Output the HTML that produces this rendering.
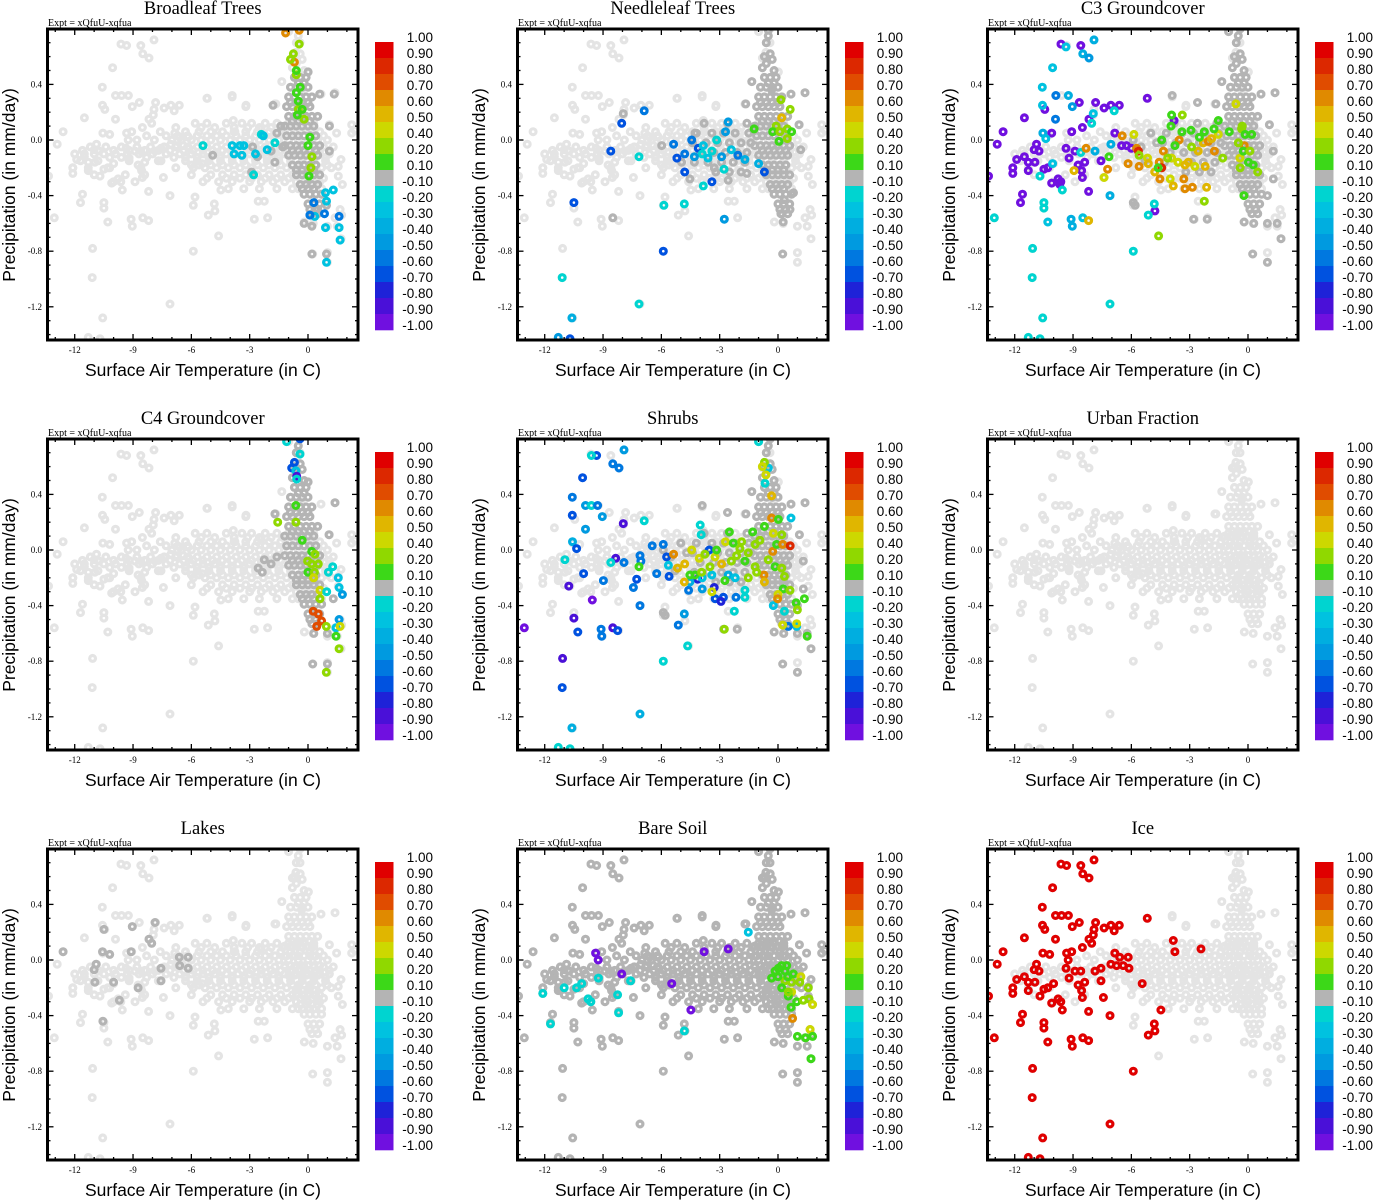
<!DOCTYPE html>
<html><head><meta charset="utf-8"><style>
html,body{margin:0;padding:0;background:#fff;}
svg{display:block;}
.ttl{font-family:"Liberation Serif",serif;font-size:18.5px;}
.expt{font-family:"Liberation Serif",serif;font-size:10px;}
.tk{font-family:"Liberation Serif",serif;font-size:9px;}
.axl{font-family:"Liberation Sans",sans-serif;font-size:17.5px;}
.cbl{font-family:"Liberation Sans",sans-serif;font-size:13.5px;}
</style></head><body>
<svg id="fig" width="1373" height="1200" xmlns="http://www.w3.org/2000/svg"></svg>
<script>
// ---------- data ----------
const xTicks = [-12,-9,-6,-3,0];
const yTicks = [0.4,0.0,-0.4,-0.8,-1.2];
const cbLabels = ["1.00","0.90","0.80","0.70","0.60","0.50","0.40","0.20","0.10","-0.10","-0.20","-0.30","-0.40","-0.50","-0.60","-0.70","-0.80","-0.90","-1.00"];
const binLower = [0.9,0.8,0.7,0.6,0.5,0.4,0.2,0.1,-0.1,-0.2,-0.3,-0.4,-0.5,-0.6,-0.7,-0.8,-0.9,-1.01];
const binColors = ["#e00000","#dc2800","#e04c00","#e08a00","#e0b600","#cdd800","#90d800","#3cd818","#b4b4b4","#00d4d0","#00c2e0","#00aee0","#009ae0","#0078e0","#0052e0","#1e22d8","#4a10d8","#7010e0"];
const lightColor = "#e4e4e4";

const leftCloud = [[-9.62,0.69],[-9.33,0.68],[-8.6,0.68],[-7.92,0.72],[-8.5,0.62],[-8.18,0.59],[-10.05,0.52],[-10.58,0.38],[-9.9,0.32],[-9.59,0.32],[-9.24,0.32],[-10.57,0.25],[-10.45,0.22],[-9.04,0.24],[-8.68,0.27],[-7.84,0.27],[-7.92,0.22],[-7.96,0.18],[-7.4,0.23],[-7.05,0.25],[-6.62,0.25],[-6.88,0.21],[-5.18,0.3],[-3.84,0.14],[-3.76,0.06],[-2.42,0.08],[-11.5,0.16],[-9.9,0.15],[-8.18,0.15],[-8.04,0.12],[-8.52,0.09],[-12.6,0.06],[-10.55,0.05],[-10.2,0.04],[-9.33,0.05],[-9.07,0.06],[-6.85,0.05],[-6.6,0.02],[-6.16,0.02],[-12.9,-0.03],[-10.88,-0.03],[-11,-0.07],[-10.75,-0.08],[-9.36,-0.06],[-9.25,0],[-8.9,-0.08],[-8.6,-0.08],[-7.87,-0.08],[-7.56,-0.06],[-7.05,-0.03],[-6.76,-0.04],[-6.42,-0.04],[-6.12,-0.06],[-11.9,-0.14],[-11.5,-0.12],[-11.3,-0.16],[-10.96,-0.16],[-11.3,-0.22],[-12.1,-0.2],[-12.1,-0.24],[-10.5,-0.21],[-10.3,-0.2],[-10,-0.17],[-9.2,-0.13],[-8.74,-0.18],[-8.4,-0.16],[-8.56,-0.22],[-8.52,-0.27],[-10.7,-0.26],[-9.77,-0.28],[-9.63,-0.3],[-9.55,-0.36],[-7.56,-0.15],[-7.44,-0.27],[-5.44,-0.17],[-13.35,-0.26],[-10.1,-0.31],[-8.2,-0.37],[-7.1,-0.4],[-11.6,-0.39],[-11.7,-0.45],[-10.5,-0.45],[-10.5,-0.49],[-13.05,-0.56],[-10.3,-0.59],[-9.1,-0.57],[-9.04,-0.62],[-8.5,-0.56],[-8.2,-0.58],[-11.08,-0.78],[-11.1,-0.99],[-10.56,-1.28],[-11.3,-1.42],[-10.7,-1.43],[-7.1,-1.18],[-5.9,-0.8],[-5.13,-0.54],[-4.82,-0.46],[-4.79,-0.51],[-4.48,-0.36]];
const rightScatter = [[-4.6,-0.69],[-5.81,-0.41],[-5.9,-0.47],[-2.76,-0.57],[-2.08,-0.56],[-2.56,-0.44],[-2.25,-0.44],[-0.8,-0.35],[-0.19,-0.59],[0.27,-0.6],[1,-0.62],[1.5,-0.62],[1.7,-0.71],[0.24,-0.82],[1,-0.81],[1,-0.88],[1.39,-0.56],[1.73,-0.54],[1.65,-0.5],[1.77,-0.32],[1.56,-0.26],[1.7,-0.14],[1.56,-0.19],[1.47,0.05],[2.25,0.05],[2.42,0.07],[2.25,0.11],[1.1,0.11],[1.39,0.34],[0.67,0.33],[0.02,0.49],[-0.33,0.36],[-1.35,0.42],[-1.65,0.26],[-3.19,0.25],[-3.9,0.32],[-0.41,0.7],[-0.8,0.59],[-0.62,0.63],[-1,0.78],[-0.41,0.8],[-3.2,0.24],[-1.7,0.26],[-5.2,0.3],[-3.9,0.31]];
const coreRows = [
 [0.12,[-5.8,-5.2,-4.2,-3.4,-2.9,-2.2,-1.6,-1.0,-0.6,-0.2,0.3]],
 [0.09,[-6.8,-5.5,-4.8,-3.8,-3.1,-2.5,-1.9,-1.3,-0.8,-0.3,0.2]],
 [0.06,[-7.6,-6.3,-5.6,-5.0,-4.4,-3.8,-3.2,-2.6,-2.0,-1.4,-0.9,-0.4,0.1,0.6]],
 [0.03,[-8.3,-7.3,-6.7,-6.2,-5.7,-5.2,-4.7,-4.2,-3.7,-3.2,-2.7,-2.2,-1.7,-1.2,-0.7,-0.2,0.3,0.8]],
 [0.0,[-8.8,-7.9,-7.0,-6.5,-6.0,-5.5,-5.0,-4.5,-4.0,-3.5,-3.0,-2.5,-2.0,-1.5,-1.0,-0.5,0,0.5,1.0]],
 [-0.05,[-11.2,-10.4,-9.6,-8.8,-8.1,-7.4,-6.8,-6.2,-5.7,-5.2,-4.7,-4.2,-3.7,-3.2,-2.7,-2.2,-1.7,-1.2,-0.7,-0.2,0.3,0.8,1.3]],
 [-0.075,[-11.6,-10.8,-10.0,-9.2,-8.4,-7.7,-7.1,-6.4,-5.9,-5.4,-4.9,-4.4,-3.9,-3.4,-2.9,-2.4,-1.9,-1.4,-0.9,-0.4,0.1,0.6,1.1]],
 [-0.1,[-12.0,-11.5,-11.0,-10.5,-9.9,-9.3,-8.7,-8.0,-7.3,-6.6,-6.0,-5.4,-4.8,-4.2,-3.6,-3.0,-2.4,-1.8,-1.2,-0.6,0,0.6,1.1]],
 [-0.125,[-10.2,-9.6,-8.3,-6.9,-6.3,-5.7,-5.1,-4.5,-3.9,-3.3,-2.7,-2.1,-1.5,-0.9,-0.3,0.3,0.9]],
 [-0.15,[-11.7,-10.8,-9.2,-7.7,-6.3,-5.7,-5.1,-4.5,-3.9,-3.3,-2.7,-2.1,-1.5,-0.9,-0.3,0.3,0.9]],
 [-0.18,[-6.0,-5.6,-5.0,-4.4,-3.8,-3.2,-2.6,-2.0,-1.4,-0.8,-0.2,0.4,1.0]],
 [-0.2,[-12.1,-11.3,-10.2,-8.6,-6.8,-5.9,-5.3,-4.7,-4.1,-3.5,-2.9,-2.3,-1.7,-1.1,-0.5,0.1,0.7,1.2]],
 [-0.25,[-11.0,-9.4,-8.4,-6.0,-5.0,-4.4,-3.8,-3.2,-2.6,-2.0,-1.4,-0.8,-0.2,0.4]],
 [-0.275,[-5.2,-4.2,-3.5,-2.9,-2.2,-1.6,-1.0,-0.4,0.2,0.8]],
 [-0.3,[-10.0,-8.9,-5.4,-4.6,-3.9,-3.0,-2.4,-1.8,-1.2,-0.6,0,0.6]],
 [-0.35,[-4.1,-3.3,-2.5,-1.6,-0.5,0.1,0.7]]
];
const spikeRows = [
 [0.45,[-0.7,-0.4,-0.1]],[0.41,[-0.5,-0.2]],[0.38,[-0.9,-0.6,-0.3,0]],[0.31,[-1.0,-0.7,-0.4,-0.1,0.2]],
 [0.27,[-0.9,-0.6,-0.3,0]],[0.24,[-1.1,-0.8,-0.5,-0.2,0.1]],[0.17,[-1.0,-0.7,-0.4,-0.1,0.2,0.5]],[0.135,[-0.8,-0.5,-0.2,0.1]],[0.10,[-1.2,-0.9,-0.6,-0.3,0,0.3]],
 [0.03,[-1.1,-0.8,-0.5,-0.2,0.1,0.4]],[-0.04,[-1.2,-0.9,-0.6,-0.3,0,0.3,0.6]],[-0.075,[-0.8,-0.5,-0.2,0.1,0.4]],[-0.11,[-1.0,-0.7,-0.4,-0.1,0.2,0.5]],
 [-0.18,[-0.8,-0.5,-0.2,0.1,0.4]],[-0.215,[-0.6,-0.3,0,0.3]],[-0.25,[-0.6,-0.3,0,0.3,0.6]],[-0.32,[-0.4,-0.1,0.2,0.5]],[-0.35,[-0.3,0,0.3]],
 [-0.39,[-0.2,0.1,0.4,0.7]],[-0.46,[0,0.3,0.6]],[-0.5,[0.1,0.4]],[-0.53,[0.2,0.5]]
];
const topSpike = [[-0.6,0.55],[-0.4,0.62],[-0.6,0.7],[-0.5,0.75],[-0.2,0.5],[-0.8,0.52],[-0.3,0.58],[-0.7,0.6]];
const midRows = [
 [0.12,[-3.8,-2.6,-1.6]],[0.05,[-4.2,-3.4,-2.8,-2.2,-1.5]],[-0.02,[-4.4,-3.7,-3.1,-2.5,-1.9,-1.4]],
 [-0.09,[-4.0,-3.3,-2.7,-2.1,-1.6]],[-0.16,[-4.3,-3.6,-2.9,-2.3,-1.7]],[-0.23,[-3.2,-2.5,-1.9]]
];
const broadDark = [[-4.9,-0.11],[-2.85,-0.05],[-2.6,-0.12],[-2.9,-0.23],[-1.8,0.25],[-1.7,-0.16],[0,0.49],[0.6,0.33],[1.35,0.33],[1.1,0.1],[1.1,-0.08],[-0.2,-0.6],[0.2,-0.62],[0.2,-0.82],[0.95,-0.82],[0.95,-0.47],[0.5,-0.5],[-1.4,0.1],[-1.6,0.05],[-1.3,-0.05],[-1.9,-0.08]];
const needleDark = [[-1.35,0.42],[0.67,0.33],[1.39,0.34],[1.08,0.11],[1.17,-0.07],[0.8,-0.38],[0.33,-0.43],[0.62,-0.5],[0.15,-0.53],[0.27,-0.59],[0.24,-0.82],[-8.5,-0.56],[-7.96,0.19],[-5.98,-0.04],[-4.27,0.05],[-4.96,-0.16],[-4.53,-0.28],[-3.28,-0.2],[-2.56,-0.29],[-1.6,-0.24],[-1.66,0.26],[-0.33,0.36],[-0.5,0.79]];
const c4Dark = [[-2.25,-0.07],[-2.56,-0.13],[-2.35,-0.16],[-1.7,0.26],[0,0.49],[1.08,0.11],[1.39,0.34],[0.3,-0.6],[1,-0.6],[0.24,-0.82],[1,-0.82],[1.3,-0.35],[-1.6,-0.05],[-1.9,-0.1]];
const c3Dark = [[-5.8,-0.47],[-5.9,-0.45],[-2.8,-0.57],[-2.1,-0.57],[-2.6,0.27],[-3.9,0.32],[-1.65,0.26],[-1.35,0.42],[0.67,0.33],[1.39,0.34],[1.1,0.11],[1.3,-0.08],[1.3,-0.28],[1.0,-0.4],[1.0,-0.6],[1.5,-0.6],[1.7,-0.71],[0.24,-0.82],[1,-0.88],[0.3,-0.6],[-0.2,-0.59],[-5.9,0.0],[-5.5,-0.05],[-5.0,0.05],[-4.7,-0.02],[-5.3,-0.15],[-0.4,0.8],[-1.0,0.78]];
const lakesDark = [[-12.6,0.06],[-10.5,0.22],[-9.04,0.24],[-7.87,0.27],[-8.18,0.15],[-8.04,0.12],[-10.57,0.06],[-10.2,0.04],[-9.1,0.06],[-10.9,-0.03],[-11,-0.07],[-10.96,-0.16],[-10,-0.16],[-8.74,-0.2],[-9.7,-0.29],[-10.55,-0.44],[-7.56,-0.06],[-7.56,-0.15],[-6.62,0.02],[-6.16,0.02],[-6.6,-0.04],[-6.16,-0.06]];

const broadPts = [[-1.15,0.77,0.6],[-0.45,0.79,0.6],[-0.7,0.56,0.6],[-0.45,0.69,0.2],[-0.75,0.62,0.2],[-0.9,0.58,0.2],[-0.6,0.47,0.2],[-0.5,0.22,0.2],[-0.2,0.15,0.2],[0.15,-0.2,0.2],[0.2,-0.12,0.2],[-0.6,0.5,0.1],[-0.4,0.38,0.1],[-0.6,0.34,0.1],[-0.5,0.28,0.1],[-0.3,0.22,0.1],[-0.55,0.18,0.1],[0.1,0.02,0.1],[0.0,-0.04,0.1],[0.05,-0.26,0.1],[-5.4,-0.04,-0.2],[-2.8,-0.25,-0.2],[-2.4,0.04,-0.2],[-1.7,-0.02,-0.2],[-3.9,-0.04,-0.3],[-3.8,-0.1,-0.3],[-3.5,-0.04,-0.3],[-3.3,-0.04,-0.3],[-3.4,-0.11,-0.3],[-2.7,-0.1,-0.3],[-2.3,0.03,-0.3],[-2.1,-0.07,-0.3],[0.9,-0.63,-0.3],[1.6,-0.63,-0.3],[1.65,-0.72,-0.3],[0.95,-0.88,-0.3],[1.3,-0.36,-0.3],[0.9,-0.38,-0.3],[0.95,-0.44,-0.3],[0.35,-0.55,-0.3],[0.1,-0.54,-0.6],[0.85,-0.53,-0.6],[1.6,-0.55,-0.6],[0.3,-0.45,-0.6]];
const needlePts = [[-6.88,0.21,-0.6],[-8.04,0.12,-0.7],[-8.6,-0.08,-0.7],[-10.5,-0.45,-0.7],[-5.9,-0.8,-0.7],[-7.15,-1.18,-0.2],[-11.1,-0.99,-0.2],[-10.6,-1.28,-0.4],[-11.3,-1.42,-0.5],[-10.7,-1.43,-0.7],[-7.15,-0.12,-0.2],[-5.87,-0.47,-0.2],[-4.82,-0.46,-0.2],[-2.76,-0.57,-0.5],[-3.84,-0.33,-0.2],[-3.4,-0.3,-0.7],[-5.37,-0.03,-0.6],[-4.44,0,-0.6],[-4.8,-0.1,-0.6],[-5.2,-0.13,-0.7],[-4.1,-0.06,-0.7],[-3.84,-0.04,-0.3],[-3.9,-0.1,-0.2],[-3.4,-0.08,-0.2],[-3.16,0,-0.2],[-2.9,-0.12,-0.5],[-2.56,0.13,-0.5],[-2.7,0.06,-0.5],[-2.4,-0.07,-0.3],[-2.06,-0.11,-0.6],[-1.7,-0.14,-0.4],[-2.78,-0.21,-0.2],[-4.8,-0.23,-0.7],[-0.7,-0.23,-0.7],[-1.0,-0.17,-0.4],[-4.3,-0.12,-0.5],[-3.6,-0.13,-0.3],[-1.23,0.08,0.1],[0.15,0.29,0.2],[0.63,0.22,0.2],[0.19,0.16,0.5],[-0.1,0.1,0.2],[-0.27,0.06,0.1],[0.1,0.06,0.2],[0.48,0.08,0.2],[0.7,0.06,0.1],[0.05,-0.01,0.1],[0.48,0.01,0.2]];
const c3Pts = [[-9.62,0.69,-1],[-8.6,0.68,-1],[-11.5,0.16,-1],[-12.6,0.06,-1],[-12.9,-0.03,-1],[-13.35,-0.26,-1],[-10.45,0.22,-1],[-8.68,0.27,-1],[-7.84,0.27,-1],[-7.4,0.23,-1],[-7.05,0.25,-1],[-6.62,0.25,-1],[-5.18,0.3,-1],[-8.18,0.15,-1],[-8.52,0.09,-1],[-9.07,0.06,-1],[-10.1,0.05,-1],[-10.88,-0.03,-1],[-11,-0.07,-1],[-10.75,-0.08,-1],[-9.36,-0.06,-1],[-8.9,-0.08,-1],[-11.9,-0.14,-1],[-11.5,-0.12,-1],[-11.3,-0.16,-1],[-10.96,-0.16,-1],[-11.3,-0.22,-1],[-12.1,-0.2,-1],[-12.1,-0.24,-1],[-10.5,-0.21,-1],[-10.3,-0.2,-1],[-9.2,-0.13,-1],[-8.74,-0.18,-1],[-8.4,-0.16,-1],[-8.56,-0.22,-1],[-8.52,-0.27,-1],[-9.77,-0.28,-1],[-9.63,-0.3,-1],[-10.1,-0.31,-1],[-9.68,-0.32,-1],[-7.56,-0.15,-1],[-6.85,0.05,-1],[-6.5,-0.04,-1],[-6.25,-0.04,-1],[-6.0,-0.06,-1],[-8.2,-0.37,-1],[-11.6,-0.39,-1],[-11.7,-0.45,-1],[-4.79,-0.51,-1],[-3.8,0.14,-1],
[-9.36,0.67,-0.3],[-7.92,0.72,-0.4],[-8.5,0.62,-0.4],[-8.18,0.59,-0.5],[-10.05,0.52,-0.3],[-10.58,0.38,-0.3],[-9.88,0.32,-0.6],[-9.24,0.32,-0.4],[-9.04,0.24,-0.5],[-10.57,0.25,-0.3],[-9.9,0.15,-0.6],[-7.96,0.19,-0.3],[-8.04,0.12,-0.2],[-6.88,0.21,-0.2],[-10.55,0.05,-0.4],[-10.4,0.01,-0.3],[-7.87,-0.08,-0.4],[-8.6,-0.09,-0.2],[-7.05,-0.03,-0.4],[-10.05,-0.17,-0.3],[-10.7,-0.26,-0.2],[-9.55,-0.36,-0.2],[-7.1,-0.4,-0.4],[-10.5,-0.45,-0.2],[-10.5,-0.49,-0.2],[-10.3,-0.59,-0.3],[-9.1,-0.57,-0.4],[-9.04,-0.62,-0.4],[-8.5,-0.56,-0.3],[-13.05,-0.56,-0.2],[-11.08,-0.78,-0.2],[-11.1,-0.99,-0.2],[-10.56,-1.28,-0.2],[-11.3,-1.42,-0.2],[-10.7,-1.43,-0.2],[-7.1,-1.18,-0.2],[-5.9,-0.8,-0.2],[-5.13,-0.54,-0.2],[-4.82,-0.46,-0.2],
[-8.2,-0.58,0.5],[-8.95,-0.22,0.5],[-8.33,-0.06,0.6],[-7.4,-0.27,0.4],[-7.22,-0.21,0.6],[-7.15,-0.12,0.1],[-6.47,0.03,0.6],[-5.87,0.04,0.4],[-5.73,-0.06,0.6],[-5.64,-0.08,0.8],[-6.17,-0.17,0.6],[-5.6,-0.19,0.6],[-5.17,-0.13,0.4],[-5.13,-0.17,0.5],[-4.6,-0.69,0.2],[-4.57,-0.16,0.6],[-4.44,-0.2,0.8],[-4.8,-0.23,0.5],[-4.53,-0.28,0.6],[-4.0,-0.28,0.4],[-3.84,-0.33,0.5],[-4.35,-0.08,0.6],[-3.54,0,0.6],[-3.3,-0.28,0.6],[-3.24,-0.35,0.6],[-2.86,-0.34,0.6],[-2.13,-0.34,0.5],[-3.93,-0.13,0.4],[-3.6,-0.16,0.4],[-3.07,-0.16,0.5],[-2.56,-0.08,0.5],[-2.3,-0.02,0.5],[-2.04,-0.01,0.6],[-1.73,-0.08,0.6],[-2.2,-0.19,0.5],[-2.73,-0.19,0.4],[-3.24,-0.18,0.5],[-1.53,0.04,0.4],[-1.87,0.01,0.5],[-0.62,0.26,0.4],[-0.19,-0.04,0.6],[-0.41,-0.13,0.4],
[-3.93,0.18,0.1],[-3.38,0.18,0.2],[-3.96,0.1,0.1],[-3.4,0.06,0.1],[-2.93,0.07,0.1],[-4.44,0,0.1],[-3.76,-0.04,0.1],[-4.13,-0.13,0.2],[-4.62,-0.2,0.1],[-2.25,0.06,0.1],[-1.75,0.08,0.1],[-1.53,0.14,0.1],[-0.96,0.06,0.1],[-1.3,-0.13,0.2],[-0.33,0.08,0.2],[-0.15,0.04,0.1],[0.19,0.04,0.1],[-0.24,-0.08,0.1],[0.02,-0.16,0.1],[0.27,-0.18,0.1],[0.5,-0.23,0.2],[-0.21,-0.4,0.1],[-2.25,-0.44,0.2],[-5.6,-0.11,0.2],[-0.3,0.1,0.2],[-0.5,-0.02,0.2],[0.1,-0.08,0.2],[-0.4,-0.2,0.2],[-2.9,-0.05,0.2],[-2.5,0.02,0.1]];
const c4Pts = [[-0.41,0.8,-0.7],[-1.1,0.78,-0.2],[-0.41,0.69,-0.2],[-0.7,0.63,-0.7],[-0.84,0.59,-0.7],[-0.62,0.57,-0.3],[-0.58,0.53,-0.9],[-0.58,0.51,-0.2],[-0.62,0.32,0.1],[-1.56,0.2,0.2],[-0.62,0.2,0.2],[-0.3,0.07,0.1],[0.19,-0.01,0.1],[0.36,-0.03,0.2],[-0.02,-0.08,0.2],[0.19,-0.1,0.2],[0.53,-0.1,0.2],[0,-0.16,0.1],[0.33,-0.16,0.2],[0.29,-0.2,0.4],[0.62,-0.29,0.4],[0.62,-0.35,0.2],[1.27,-0.12,-0.2],[1.05,-0.16,-0.2],[1.56,-0.2,-0.3],[1.6,-0.27,-0.3],[1.77,-0.32,-0.5],[0.96,-0.3,-0.2],[1.6,-0.5,-0.5],[1.44,-0.56,-0.3],[0.27,-0.44,0.7],[0.53,-0.46,0.7],[0.7,-0.51,0.7],[0.45,-0.55,0.7],[1.65,-0.55,0.4],[0.94,-0.55,0.2],[1.44,-0.62,0.1],[1.6,-0.71,0.2],[0.94,-0.88,0.2]];
const shrubPts = [[-7.92,0.72,-0.5],[-8.5,0.62,-0.6],[-8.18,0.59,-0.6],[-9.33,0.68,-0.7],[-9.6,0.68,-0.2],[-10.05,0.52,-0.7],[-10.58,0.38,-0.6],[-10.58,0.25,-0.7],[-9.9,0.32,-0.5],[-9.6,0.32,-0.2],[-9.28,0.32,-0.6],[-9.04,0.24,-0.5],[-9.9,0.15,-0.5],[-7.96,0.19,-0.9],[-6.88,0.21,-0.2],[-10.57,0.06,-0.4],[-10.36,0.01,-0.7],[-10.96,-0.07,-0.2],[-10,-0.17,-0.7],[-8.98,-0.22,-0.6],[-10.76,-0.26,-0.9],[-9.55,-0.36,-1.0],[-10.5,-0.49,-0.9],[-13.05,-0.56,-1.0],[-10.3,-0.59,-0.7],[-9.1,-0.57,-0.6],[-9.07,-0.62,-0.6],[-8.5,-0.56,-0.9],[-8.25,-0.58,-0.7],[-11.08,-0.78,-0.9],[-11.1,-0.99,-0.7],[-10.6,-1.28,-0.4],[-11.3,-1.42,-0.2],[-10.7,-1.43,-0.2],[-7.1,-1.18,-0.4],[-5.9,-0.8,-0.2],[-4.65,-0.69,-0.2],[-5.13,-0.54,-0.6],[-4.82,-0.46,-0.5],[-7.1,-0.4,-0.6],[-7.44,-0.27,-0.6],[-7.27,-0.21,-0.7],[-6.24,-0.17,-0.6],[-5.6,-0.19,-0.7],[-7.1,-0.04,-0.6],[-7.05,-0.08,-0.6],[-8.35,-0.06,-0.9],[-8.6,-0.09,-0.2],[-7.92,-0.09,-0.6],[-6.47,0.03,-0.6],[-5.9,0.04,-0.6],[-5.73,-0.05,-0.7],[-5.64,-0.11,-0.3],[-7.15,-0.12,0.1],
[-4.13,-0.21,-0.8],[-3.28,-0.27,-0.8],[-2.81,-0.34,-0.7],[-3.23,-0.35,-0.7],[-2.93,-0.37,-0.8],[-2.16,-0.34,-0.6],[-1.7,-0.29,-0.2],[-1.7,-0.34,-0.2],[-2.25,-0.44,-0.2],[-2.76,-0.57,0.2],[-4.6,-0.29,-0.6],[-3.9,-0.28,-0.5],[-4.53,-0.23,-0.4],[-3.9,-0.2,-0.3],[-3.4,-0.18,-0.3],[-2.56,-0.18,-0.4],[-2.2,-0.2,-0.3],[-4,0.18,-0.2],[-3.95,0.11,-0.2],[-3.54,0,-0.7],[-0.24,-0.4,-0.3],[0.33,-0.44,-0.2],[0.96,-0.55,-0.3],[0.53,-0.55,-0.6],[-0.5,0.59,-0.3],[-0.67,0.48,-0.2],[-1,0.78,-0.2],[0.67,0.23,-0.3],
[-5.37,-0.03,0.6],[-5.17,-0.13,0.5],[-4.8,-0.1,0.5],[-4.82,-0.23,0.5],[-4.53,-0.18,0.1],[-4.44,0,0.4],[-4.05,-0.06,0.4],[-3.76,-0.03,0.2],[-3.5,-0.12,0.2],[-3.24,-0.05,0.4],[-2.9,-0.1,0.5],[-3.16,0,0.1],[-2.7,0.06,0.4],[-2.5,0.13,0.1],[-2.3,0.05,0.1],[-2.13,-0.04,0.2],[-1.96,0.01,0.2],[-1.7,-0.08,0.1],[-1.53,-0.02,0.2],[-1.3,0.13,0.1],[-1.18,0.04,0.2],[-0.93,0.07,0.2],[-0.7,0.17,0.1],[-0.33,0.23,0.6],[-0.24,0.12,0.4],[0.02,0.22,0.1],[-0.27,-0.01,0.6],[-0.07,0.04,0.1],[0.19,0.11,0.2],[0.24,0.04,0.6],[0.63,0.03,0.8],[-0.5,-0.07,0.2],[-0.15,-0.12,0.1],[0.19,-0.13,0.2],[-0.72,-0.18,0.6],[-0.7,-0.23,0.5],[-1.1,-0.16,0.2],[0.33,-0.19,0.2],[0.27,-0.28,0.1],[0.62,-0.29,0.2],[0,-0.32,0.4],[-0.02,-0.35,0.6],[0.93,-0.38,0.1],[1,-0.43,0.2],[1.36,-0.35,0.1],[0.24,-0.54,0.4],[0.96,-0.53,0.4],[1.5,-0.62,0.1],[-0.33,0.39,0.5],[-0.62,0.54,0.4],[-0.7,0.63,0.2],[-0.8,0.6,0.4],[-4.27,-0.18,0.1],[-2.4,-0.08,0.2],[-1.53,-0.2,0.2],[-3.4,-0.3,0.4],[-3.93,-0.16,0.2],[-2.73,-0.22,0.1],[-1.18,-0.12,0.2],[-1.87,0.06,0.2]];
const barePts = [[-9.38,0.05,-1],[-9.25,0,-1],[-8.04,-0.1,-1],[-5.47,-0.17,-1],[-4.48,-0.36,-1],[-3.8,0.06,-1],[-2.56,0.08,-1],[-12.1,-0.24,-0.2],[-11.7,-0.46,-0.2],[-11,-0.2,-0.2],[-10.36,-0.2,-0.2],[-10.1,-0.17,-0.2],[-9.77,-0.28,-0.2],[-9.63,-0.3,-0.2],[-9.24,-0.13,-0.2],[-7.58,-0.15,-0.2],[-8.25,-0.25,-0.2],[-8.2,-0.38,-0.2],[-4.82,-0.51,-0.2],[-1.53,0.2,-0.3],
[-0.15,-0.08,0.1],[-0.33,-0.13,0.1],[0.02,-0.06,0.1],[0.19,-0.04,0.1],[0.45,-0.04,0.1],[0.36,-0.08,0.1],[0.36,-0.15,0.2],[0.7,-0.16,0.2],[0.79,-0.1,0.1],[1.18,-0.12,0.4],[1.12,-0.16,0.2],[0.7,-0.23,0.4],[0.19,-0.2,0.1],[0.53,-0.26,0.1],[0.67,-0.34,0.1],[0.96,-0.3,0.1],[1.3,-0.29,0.2],[1.56,-0.2,0.2],[1.6,-0.28,0.2],[1.78,-0.32,0.4],[0.75,-0.42,0.6],[1.65,-0.5,0.4],[1,-0.55,0.1],[1.42,-0.56,0.1],[1.78,-0.55,0.1],[1.7,-0.71,0.1],[0.53,-0.23,0.2],[0.0,-0.12,0.1],[0.5,-0.12,0.1]];

function rowsToPts(rows){const out=[];rows.forEach(r=>r[1].forEach(x=>out.push([x,r[0]])));return out;}
const coreCloud = rowsToPts(coreRows);
const spikeCloud = rowsToPts(spikeRows);
const midCloud = rowsToPts(midRows);

const panelTitles = ["Broadleaf Trees","Needleleaf Trees","C3 Groundcover","C4 Groundcover","Shrubs","Urban Fraction","Lakes","Bare Soil","Ice"];
const panelLayers = [
 [[spikeCloud,0],[broadDark,0],[broadPts]],
 [[spikeCloud,0],[topSpike,0],[midCloud,0],[needleDark,0],[needlePts]],
 [[spikeCloud,0],[topSpike,0],[midCloud,0],[c3Dark,0],[c3Pts]],
 [[spikeCloud,0],[topSpike,0],[c4Dark,0],[c4Pts]],
 [[spikeCloud,0],[topSpike,0],[midCloud,0],[c3Dark,0],[shrubPts]],
 [],
 [[lakesDark,0]],
 [[leftCloud,0],[rightScatter,0],[coreCloud,0],[spikeCloud,0],[topSpike,0],[barePts]],
 [[leftCloud,0.95]]
];

// ---------- drawing ----------
const NS="http://www.w3.org/2000/svg";
const svg=document.getElementById('fig');
function el(tag,attrs,parent){const e=document.createElementNS(NS,tag);for(const k in attrs)e.setAttribute(k,attrs[k]);(parent||svg).appendChild(e);return e;}
const PL=47.5, PR=358, PT=29, PB=340;
const XMIN=-13.4, XUNIT=19.44, Y0PX=140, YUNIT=139;
function sx(x){return PL+(x-XMIN)*XUNIT;}
function sy(y){return Y0PX-y*YUNIT;}
function colorFor(v){if(v===null||v===undefined)return lightColor;for(let i=0;i<binLower.length;i++){if(v>=binLower[i]-1e-9)return binColors[i];}return binColors[binColors.length-1];}

const defs=el('defs',{});
const cp=el('clipPath',{id:'plotclip'},defs);
el('rect',{x:PL,y:PT,width:PR-PL,height:PB-PT},cp);

panelTitles.forEach((title,pi)=>{
  const c=pi%3, r=Math.floor(pi/3);
  const g=el('g',{transform:`translate(${470*c},${410*r})`});
  
  

  const t=el('text',{x:(PL+PR)/2,y:14,'text-anchor':'middle',class:'ttl'},g);
  t.textContent=title;
  
  

  const ex=el('text',{x:48,y:26,class:'expt'},g);
  ex.textContent='Expt = xQfuU-xqfua';
  
  

  const pts=el('g',{'clip-path':'url(#plotclip)'},g);
  
  
  function drawArr(arr,val){
    arr.forEach(p=>{
      const v=(val===undefined)?p[2]:val;
      const cEl=el('circle',{cx:sx(p[0]).toFixed(1),cy:sy(p[1]).toFixed(1),r:2.9,fill:'none',stroke:colorFor(v),'stroke-width':3.2},pts);
      
      
    });
  }
  [leftCloud,rightScatter,coreCloud,spikeCloud,topSpike].forEach(a=>drawArr(a,null));
  panelLayers[pi].forEach(L=>drawArr(L[0],L.length>1?L[1]:undefined));

  const fr=el('rect',{x:PL,y:PT,width:PR-PL,height:PB-PT,fill:'none',stroke:'#000','stroke-width':3},g);
  
  
  const tk=el('g',{stroke:'#000','stroke-width':1.3},g);
  
  
  for(let x=-13;x<=2;x++){const X=sx(x);const major=xTicks.indexOf(x)>=0;const L=major?6:3;
    el('line',{x1:X,x2:X,y1:PB,y2:PB-L},tk);el('line',{x1:X,x2:X,y1:PT,y2:PT+L},tk);}
  for(let k=-14;k<=7;k++){const y=k/10;const Y=sy(y);if(Y<PT+1||Y>PB-1)continue;const major=(k%4===0);const L=major?6:3;
    el('line',{x1:PL,x2:PL+L,y1:Y,y2:Y},tk);el('line',{x1:PR,x2:PR-L,y1:Y,y2:Y},tk);}
  xTicks.forEach(x=>{const tl=el('text',{x:sx(x),y:353,'text-anchor':'middle',class:'tk'},g);tl.textContent=String(x);
    
    });
  yTicks.forEach(y=>{const tl=el('text',{x:42,y:sy(y)+3,'text-anchor':'end',class:'tk'},g);tl.textContent=y.toFixed(1);
    
    });
  const xl=el('text',{x:203,y:376,'text-anchor':'middle',class:'axl'},g);xl.textContent='Surface Air Temperature (in C)';
  
  
  const yl=el('text',{x:0,y:0,'text-anchor':'middle',class:'axl',transform:'translate(15,185) rotate(-90)'},g);yl.textContent='Precipitation (in mm/day)';
  
  

  const cb=el('g',{},g);
  
  
  binColors.forEach((col,i)=>{const rc=el('rect',{x:375,y:42+16*i,width:18.5,height:16.3,fill:col},cb);
    
    });
  cbLabels.forEach((lab,i)=>{const tl=el('text',{x:433,y:42+16*i,'text-anchor':'end',class:'cbl'},cb);tl.textContent=lab;
    
    });
});
</script>
</body></html>
